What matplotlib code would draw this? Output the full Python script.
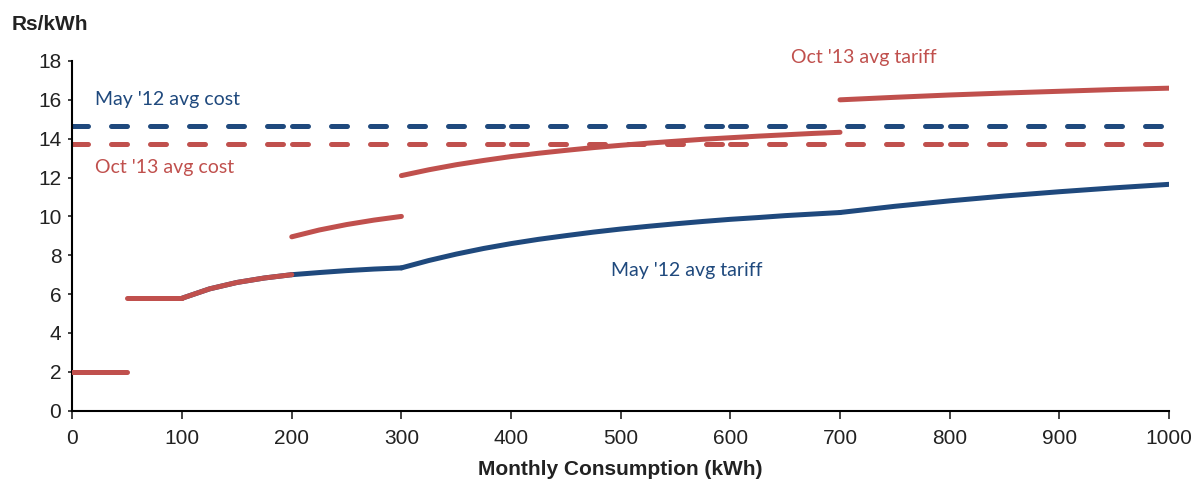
import numpy as np
import matplotlib.pyplot as plt

# average tariff by consumption slab
may12_x = [[100, 125, 150, 175, 200],
           [200, 225, 250, 275, 300],
           [300, 325, 350, 375, 400, 425, 450, 475, 500, 525, 550, 575, 600, 625, 650, 675, 700],
           [700, 750, 800, 850, 900, 950, 1000]]
may12_y = [[5.79, 6.27, 6.60, 6.83, 7.00],
           [7.00, 7.11, 7.21, 7.29, 7.35],
           [7.35, 7.73, 8.06, 8.35, 8.60, 8.82, 9.01, 9.19, 9.35, 9.49, 9.62, 9.74,
            9.85, 9.94, 10.04, 10.12, 10.20],
           [10.20, 10.52, 10.80, 11.05, 11.27, 11.47, 11.65]]

oct13_x = [[0, 50],
           [50, 100],
           [100, 125, 150, 175, 200],
           [200, 225, 250, 275, 300],
           [300, 325, 350, 375, 400, 425, 450, 475, 500, 525, 550, 575, 600, 625, 650, 675, 700],
           [700, 750, 800, 850, 900, 950, 1000]]
oct13_y = [[2.0, 2.0],
           [5.79, 5.79],
           [5.79, 6.27, 6.60, 6.83, 7.00],
           [8.95, 9.30, 9.58, 9.81, 10.00],
           [12.10, 12.40, 12.66, 12.88, 13.08, 13.25, 13.40, 13.54, 13.66, 13.77,
            13.87, 13.97, 14.05, 14.13, 14.20, 14.27, 14.33],
           [16.00, 16.13, 16.25, 16.35, 16.44, 16.53, 16.60]]

may12_avg_cost = 14.65
oct13_avg_cost = 13.71
cost_breaks = [0, 200, 400, 600, 800, 1000]

blue = "#1F497D"
red = "#C0504D"
lw = 3.6

fig = plt.figure(figsize=(11.94, 4.79), dpi=100)
ax = fig.add_axes([0.0607, 0.1426, 0.9183, 0.7301])

# average cost lines (dashed, drawn in 200 kWh pieces)
for a, b in zip(cost_breaks[:-1], cost_breaks[1:]):
    for val, col in [(may12_avg_cost, blue), (oct13_avg_cost, red)]:
        ax.plot([a, b], [val, val], color=col, lw=lw, dashes=(3.2, 4.6),
                dash_capstyle="round", zorder=2)

for xs, ys in zip(may12_x, may12_y):
    ax.plot(xs, ys, color=blue, lw=lw, solid_capstyle="round", zorder=3)
for xs, ys in zip(oct13_x, oct13_y):
    ax.plot(xs, ys, color=red, lw=lw, solid_capstyle="round", zorder=4)

ax.set_xlim(0, 1000)
ax.set_ylim(0, 18)
ax.set_xticks(np.arange(0, 1001, 100))
ax.set_yticks(np.arange(0, 19, 2))
ax.tick_params(axis="x", direction="out", length=6, width=1.2, labelsize=15,
               colors="#222222", pad=7)
ax.tick_params(axis="y", direction="out", length=3, width=1.2, labelsize=15,
               colors="#222222", pad=5)
for s in ["top", "right"]:
    ax.spines[s].set_visible(False)
for s in ["left", "bottom"]:
    ax.spines[s].set_linewidth(1.5)
    ax.spines[s].set_color("black")
for lab in ax.get_xticklabels() + ax.get_yticklabels():
    lab.set_family("Liberation Sans")

ax.set_xlabel("Monthly Consumption (kWh)", fontsize=15, fontweight="bold",
              family="Liberation Sans", color="#222222", labelpad=9)
fig.text(12 / 1194, 1 - 24 / 479, "Rs/kWh", fontsize=15, fontweight="bold",
         family="Liberation Sans", color="#222222", va="center", ha="left")

ann = dict(fontsize=14, family="Lato", va="center", ha="left")
ax.text(20.5, 16.04, "May '12 avg cost", color=blue, **ann)
ax.text(20.5, 12.5, "Oct '13 avg cost", color=red, **ann)
ax.text(491, 7.24, "May '12 avg tariff", color=blue, **ann)
ax.text(655, 18.19, "Oct '13 avg tariff", color=red, clip_on=False, **ann)

fig.savefig("out.png", dpi=100)
